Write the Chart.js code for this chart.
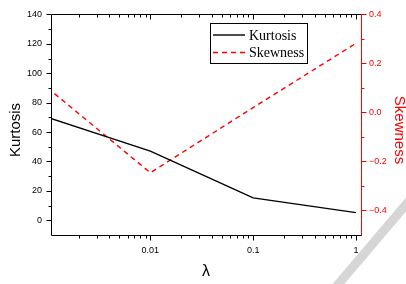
<!DOCTYPE html>
<html>
<head>
<meta charset="utf-8">
<script src="https://cdn.jsdelivr.net/npm/chart.js@4.4.1/dist/chart.umd.min.js"></script>
<style>
  html, body { margin: 0; padding: 0; background: #fff; }
</style>
</head>
<body>
<canvas id="chart" width="406" height="284"></canvas>
<script>
// values
var lambdas = [0.001, 0.01, 0.1, 1];
var kurtosis = [70, 47, 15.2, 5.2];
var skewness = [0.10, -0.246, 0.02, 0.282];

var xTicks = [0.01, 0.1, 1];
var kurtTicks = [0, 20, 40, 60, 80, 100, 120, 140];
var kurtMinor = [10, 30, 50, 70, 90, 110, 130];
var skewTicks = [-0.4, -0.2, 0, 0.2, 0.4];
var skewMinor = [-0.3, -0.1, 0.1, 0.3];

var sans = '"Liberation Sans", Arial, sans-serif';
var serif = '"Liberation Serif", "Times New Roman", serif';

function points(xs, ys) {
  var out = [];
  for (var i = 0; i < xs.length; i++) {
    out.push({x: xs[i], y: ys[i]});
  }
  return out;
}

// axis frame, tick marks, y titles, legend box
var framePlugin = {
  id: 'frame',
  afterDraw: function(chart) {
    var ctx = chart.ctx;
    var a = chart.chartArea;
    var x = chart.scales.x, y = chart.scales.y, y2 = chart.scales.y2;
    var L = Math.floor(a.left) + 0.5, R = Math.floor(a.right) + 0.5;
    var T = Math.floor(a.top) + 0.5, B = Math.floor(a.bottom) + 0.5;
    var i, p;

    ctx.save();
    ctx.lineWidth = 1;

    // black left/top/bottom
    ctx.strokeStyle = '#000';
    ctx.beginPath();
    ctx.moveTo(R, T); ctx.lineTo(L, T); ctx.lineTo(L, B); ctx.lineTo(R, B);
    ctx.stroke();

    // left ticks
    ctx.beginPath();
    for (i = 0; i < kurtTicks.length; i++) {
      p = Math.round(y.getPixelForValue(kurtTicks[i])) + 0.5;
      ctx.moveTo(L - 5, p); ctx.lineTo(L, p);
    }
    for (i = 0; i < kurtMinor.length; i++) {
      p = Math.round(y.getPixelForValue(kurtMinor[i])) + 0.5;
      ctx.moveTo(L - 3, p); ctx.lineTo(L, p);
    }
    // bottom (outward) and top (inward) ticks
    for (i = 0; i < xTicks.length; i++) {
      p = Math.round(x.getPixelForValue(xTicks[i])) + 0.5;
      ctx.moveTo(p, B); ctx.lineTo(p, B + 5);
      ctx.moveTo(p, T); ctx.lineTo(p, T + 5);
    }
    for (var d = -3; d < 0; d++) {
      for (var m = 2; m <= 9; m++) {
        var v = m * Math.pow(10, d);
        if (v < x.min || v > x.max) continue;
        p = Math.round(x.getPixelForValue(v)) + 0.5;
        ctx.moveTo(p, B); ctx.lineTo(p, B + 3);
        ctx.moveTo(p, T); ctx.lineTo(p, T + 3);
      }
    }
    ctx.stroke();

    // red right axis
    ctx.strokeStyle = '#ff0000';
    ctx.beginPath();
    ctx.moveTo(R, T - 0.5); ctx.lineTo(R, B + 0.5);
    for (i = 0; i < skewTicks.length; i++) {
      p = Math.round(y2.getPixelForValue(skewTicks[i])) + 0.5;
      ctx.moveTo(R, p); ctx.lineTo(R + 5, p);
    }
    for (i = 0; i < skewMinor.length; i++) {
      p = Math.round(y2.getPixelForValue(skewMinor[i])) + 0.5;
      ctx.moveTo(R, p); ctx.lineTo(R + 3, p);
    }
    ctx.stroke();

    // y axis titles
    var midY = 130;
    ctx.font = '15px ' + sans;
    ctx.textAlign = 'center';
    ctx.textBaseline = 'alphabetic';
    ctx.fillStyle = '#000';
    ctx.save();
    ctx.translate(20, midY);
    ctx.rotate(-Math.PI / 2);
    ctx.fillText('Kurtosis', 0, 0);
    ctx.restore();
    ctx.fillStyle = '#ff0000';
    ctx.save();
    ctx.translate(395, midY);
    ctx.rotate(Math.PI / 2);
    ctx.fillText('Skewness', 0, 0);
    ctx.restore();

    // legend
    ctx.fillStyle = '#fff';
    ctx.fillRect(210.5, 23.5, 97, 40);
    ctx.strokeStyle = '#000';
    ctx.strokeRect(210.5, 23.5, 97, 40);
    ctx.font = '14px ' + serif;
    ctx.textAlign = 'left';
    ctx.textBaseline = 'middle';
    var rows = [35, 52.5];
    chart.data.datasets.forEach(function(ds, k) {
      ctx.strokeStyle = ds.borderColor;
      ctx.lineWidth = ds.borderWidth;
      ctx.setLineDash(ds.borderDash || []);
      ctx.beginPath();
      ctx.moveTo(213, rows[k]); ctx.lineTo(245, rows[k]);
      ctx.stroke();
      ctx.setLineDash([]);
      ctx.fillStyle = '#000';
      ctx.fillText(ds.label, 249, rows[k] + 1);
    });

    ctx.restore();
  }
};

// faint watermark stripe in the corner
var stripePlugin = {
  id: 'stripe',
  beforeDraw: function(chart) {
    var ctx = chart.ctx;
    ctx.save();
    ctx.strokeStyle = '#d6d6d6';
    ctx.lineWidth = 9;
    ctx.beginPath();
    ctx.moveTo(414, 195);
    ctx.lineTo(330, 294);
    ctx.stroke();
    ctx.restore();
  }
};

var ctx = document.getElementById('chart');
var chart = new Chart(ctx, {
  type: 'line',
  data: {
    datasets: [
      {
        label: 'Kurtosis',
        data: points(lambdas, kurtosis),
        yAxisID: 'y',
        borderColor: '#000000',
        borderWidth: 1.4,
        pointRadius: 0,
        fill: false,
        tension: 0
      },
      {
        label: 'Skewness',
        data: points(lambdas, skewness),
        yAxisID: 'y2',
        borderColor: '#ff0000',
        borderWidth: 1.4,
        borderDash: [5, 4],
        pointRadius: 0,
        fill: false,
        tension: 0
      }
    ]
  },
  options: {
    responsive: false,
    animation: false,
    layout: { padding: { top: 6, left: 0, right: 0, bottom: 0 } },
    plugins: {
      legend: { display: false },
      tooltip: { enabled: false }
    },
    scales: {
      x: {
        type: 'logarithmic',
        position: 'bottom',
        min: 0.00108,
        max: 1.12,
        afterBuildTicks: function(scale) {
          scale.ticks = xTicks.map(function(v) { return {value: v}; });
        },
        afterFit: function(scale) { scale.height = 49; },
        grid: { display: false, drawTicks: false },
        border: { display: false },
        ticks: {
          autoSkip: false,
          maxRotation: 0,
          padding: 10,
          color: '#000',
          font: { family: sans, size: 9 },
          callback: function(v) { return String(v); }
        },
        title: {
          display: true,
          text: 'λ',
          color: '#000',
          font: { family: sans, size: 16, lineHeight: 1 },
          padding: { top: 0, bottom: 4 }
        }
      },
      y: {
        type: 'linear',
        position: 'left',
        min: -10,
        max: 140,
        afterBuildTicks: function(scale) {
          scale.ticks = kurtTicks.map(function(v) { return {value: v}; });
        },
        afterFit: function(scale) { scale.width = 51; },
        grid: { display: false, drawTicks: false },
        border: { display: false },
        ticks: {
          padding: 9,
          color: '#000',
          font: { family: sans, size: 9 },
          callback: function(v) { return String(v); }
        }
      },
      y2: {
        type: 'linear',
        position: 'right',
        min: -0.5,
        max: 0.4,
        afterBuildTicks: function(scale) {
          scale.ticks = skewTicks.map(function(v) { return {value: v}; });
        },
        afterFit: function(scale) { scale.width = 45; },
        grid: { display: false, drawTicks: false },
        border: { display: false },
        ticks: {
          padding: 8,
          color: '#ff0000',
          font: { family: sans, size: 9 },
          callback: function(v) { return v.toFixed(1).replace('-', '\u2212'); }
        }
      }
    }
  },
  plugins: [stripePlugin, framePlugin]
});
</script>
</body>
</html>
